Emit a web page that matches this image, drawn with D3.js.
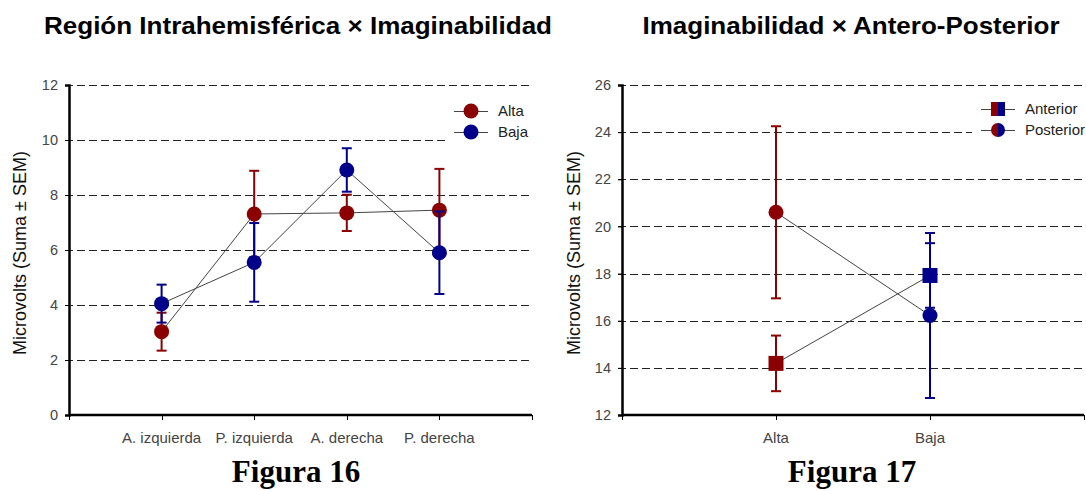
<!DOCTYPE html>
<html>
<head>
<meta charset="utf-8">
<script src="https://d3js.org/d3.v7.min.js"></script>
<style>
  body { margin: 0; background: #fff; }
  svg { display: block; }
</style>
</head>
<body>
<svg id="chart" width="1086" height="491"></svg>
<script>
// Figura 16: Región Intrahemisférica x Imaginabilidad
var regiones = ["A. izquierda", "P. izquierda", "A. derecha", "P. derecha"];
var altaMedia = [3.03, 7.31, 7.35, 7.45];
var altaSem   = [0.69, 1.57, 0.66, 1.50];
var bajaMedia = [4.05, 5.55, 8.91, 5.90];
var bajaSem   = [0.69, 1.43, 0.79, 1.50];
var ticks16 = [0, 2, 4, 6, 8, 10, 12];

// Figura 17: Imaginabilidad x Antero-Posterior
var imaginabilidad = ["Alta", "Baja"];
var anteriorMedia = [14.19, 17.92];
var anteriorSem   = [1.18, 1.37];
var posteriorMedia = [20.60, 16.22];
var posteriorSem   = [3.65, 3.50];
var ticks17 = [12, 14, 16, 18, 20, 22, 24, 26];

var RED = "#8b0000", BLUE = "#00008b";
var SANS = "Liberation Sans, Arial, sans-serif";
var svg = d3.select("#chart");

function drawPanel(opts) {
  var g = svg.append("g");
  var x = d3.scalePoint().domain(opts.cats).range([opts.x0, opts.x1]).padding(1);
  var y = d3.scaleLinear().domain(opts.yDomain).range([415, 85]);
  var crisp = function(v) { return Math.round(v) + 0.5; };

  // dashed grid lines
  g.selectAll(".grid").data(opts.ticks.slice(1)).enter().append("line")
    .attr("x1", opts.x0 - 4).attr("x2", opts.x1)
    .attr("y1", function(d) { return crisp(y(d)); }).attr("y2", function(d) { return crisp(y(d)); })
    .attr("stroke", "#222").attr("stroke-width", 1).attr("stroke-dasharray", "8,4");

  // legend background covers grid
  g.append("rect").attr("x", opts.legX - 26).attr("y", 96)
    .attr("width", opts.x1 - opts.legX + 30).attr("height", 46).attr("fill", "#fff");

  // y axis
  var yAxis = d3.axisLeft(y).tickValues(opts.ticks).tickSize(4).tickPadding(7);
  var ya = g.append("g").attr("transform", "translate(" + opts.x0 + ",0)").call(yAxis);
  ya.select(".domain").attr("stroke", "#000").attr("stroke-width", 2.5);
  ya.selectAll(".tick line").attr("stroke", "#000");
  ya.selectAll("text").attr("font-family", SANS)
    .attr("font-size", 14.5).attr("fill", "#444");

  // x axis with ticks at ends and at each category
  var xa = g.append("g").attr("transform", "translate(0,415)");
  xa.append("line").attr("x1", opts.x0).attr("x2", opts.x1)
    .attr("stroke", "#000").attr("stroke-width", 2.5);
  var tickXs = [opts.x0].concat(opts.cats.map(function(c) { return x(c); })).concat([opts.x1]);
  xa.selectAll(".xt").data(tickXs).enter().append("line")
    .attr("x1", function(d) { return crisp(d); }).attr("x2", function(d) { return crisp(d); })
    .attr("y1", 0).attr("y2", 5).attr("stroke", "#000");
  xa.selectAll(".xl").data(opts.cats).enter().append("text")
    .attr("x", function(d) { return x(d); }).attr("y", 28)
    .attr("text-anchor", "middle")
    .attr("font-family", SANS)
    .attr("font-size", 15).attr("fill", "#444")
    .text(function(d) { return d; });

  // axis title
  g.append("text")
    .attr("transform", "translate(" + opts.titleX + ",253) rotate(-90)")
    .attr("text-anchor", "middle")
    .attr("font-family", SANS)
    .attr("font-size", 18).attr("fill", "#111")
    .text("Microvolts (Suma \u00b1 SEM)");

  // series
  opts.series.forEach(function(s) {
    var pts = opts.cats.map(function(c, i) {
      return { x: x(c), m: s.mean[i], e: s.sem[i], col: s.colors[i] };
    });
    g.append("path").datum(pts)
      .attr("d", d3.line().x(function(d) { return d.x; }).y(function(d) { return y(d.m); }))
      .attr("fill", "none").attr("stroke", "#444").attr("stroke-width", 1);
    var eb = g.selectAll(null).data(pts).enter().append("g")
      .attr("stroke", function(d) { return d.col; }).attr("stroke-width", 2);
    eb.append("line")
      .attr("x1", function(d) { return d.x; }).attr("x2", function(d) { return d.x; })
      .attr("y1", function(d) { return y(d.m + d.e); }).attr("y2", function(d) { return y(d.m - d.e); });
    eb.append("line")
      .attr("x1", function(d) { return d.x - 5; }).attr("x2", function(d) { return d.x + 5; })
      .attr("y1", function(d) { return y(d.m + d.e); }).attr("y2", function(d) { return y(d.m + d.e); });
    eb.append("line")
      .attr("x1", function(d) { return d.x - 5; }).attr("x2", function(d) { return d.x + 5; })
      .attr("y1", function(d) { return y(d.m - d.e); }).attr("y2", function(d) { return y(d.m - d.e); });
    pts.forEach(function(d) {
      drawMarker(g, s.shape, d.x, y(d.m), d.col, d.col);
    });
  });

  // legend
  opts.series.forEach(function(s, i) {
    var ly = opts.legY + i * 21;
    g.append("line").attr("x1", opts.legX - 17).attr("x2", opts.legX + 17)
      .attr("y1", crisp(ly)).attr("y2", crisp(ly)).attr("stroke", "#444");
    drawMarker(g, s.shape, opts.legX, ly, s.legColors[0], s.legColors[1]);
    g.append("text").attr("x", opts.legX + 27).attr("y", ly + 5)
      .attr("font-family", SANS)
      .attr("font-size", 15).attr("fill", "#222").text(s.name);
  });
}

function drawMarker(g, shape, cx, cy, left, right) {
  var id = "clip" + Math.round(cx) + "_" + Math.round(cy) + "_" + shape;
  if (left === right) {
    if (shape === "circle") {
      g.append("circle").attr("cx", cx).attr("cy", cy).attr("r", 7.5).attr("fill", left);
    } else {
      g.append("rect").attr("x", cx - 7.5).attr("y", cy - 7.5).attr("width", 15).attr("height", 15).attr("fill", left);
    }
    return;
  }
  // half red / half blue legend marker
  var cl = g.append("clipPath").attr("id", id + "L");
  cl.append("rect").attr("x", cx - 8).attr("y", cy - 8).attr("width", 8).attr("height", 16);
  var cr = g.append("clipPath").attr("id", id + "R");
  cr.append("rect").attr("x", cx).attr("y", cy - 8).attr("width", 8).attr("height", 16);
  [[left, "L"], [right, "R"]].forEach(function(p) {
    var m;
    if (shape === "circle") {
      m = g.append("circle").attr("cx", cx).attr("cy", cy).attr("r", 7);
    } else {
      m = g.append("rect").attr("x", cx - 7).attr("y", cy - 7).attr("width", 14).attr("height", 14);
    }
    m.attr("fill", p[0]).attr("clip-path", "url(#" + id + p[1] + ")");
  });
}

drawPanel({
  cats: regiones, x0: 69, x1: 532, yDomain: [0, 12], ticks: ticks16, titleX: 26,
  legX: 471, legY: 111,
  series: [
    { name: "Alta", mean: altaMedia, sem: altaSem, shape: "circle",
      colors: regiones.map(function() { return RED; }), legColors: [RED, RED] },
    { name: "Baja", mean: bajaMedia, sem: bajaSem, shape: "circle",
      colors: regiones.map(function() { return BLUE; }), legColors: [BLUE, BLUE] }
  ]
});

drawPanel({
  cats: imaginabilidad, x0: 622, x1: 1084, yDomain: [12, 26], ticks: ticks17, titleX: 580,
  legX: 998, legY: 109,
  series: [
    { name: "Anterior", mean: anteriorMedia, sem: anteriorSem, shape: "square",
      colors: [RED, BLUE], legColors: [RED, BLUE] },
    { name: "Posterior", mean: posteriorMedia, sem: posteriorSem, shape: "circle",
      colors: [RED, BLUE], legColors: [RED, BLUE] }
  ]
});

// titles
svg.append("text").attr("x", 298).attr("y", 34).attr("text-anchor", "middle")
  .attr("font-family", SANS).attr("font-weight", "bold")
  .attr("font-size", 24).attr("fill", "#000")
  .attr("textLength", 508).attr("lengthAdjust", "spacingAndGlyphs")
  .text("Regi\u00f3n Intrahemisf\u00e9rica \u00d7 Imaginabilidad");
svg.append("text").attr("x", 851).attr("y", 34).attr("text-anchor", "middle")
  .attr("font-family", SANS).attr("font-weight", "bold")
  .attr("font-size", 24).attr("fill", "#000")
  .attr("textLength", 417).attr("lengthAdjust", "spacingAndGlyphs")
  .text("Imaginabilidad \u00d7 Antero-Posterior");

svg.append("text").attr("x", 296).attr("y", 482).attr("text-anchor", "middle")
  .attr("font-family", "Liberation Serif, Times New Roman, serif").attr("font-weight", "bold")
  .attr("font-size", 31).attr("fill", "#000").text("Figura 16");
svg.append("text").attr("x", 852).attr("y", 482).attr("text-anchor", "middle")
  .attr("font-family", "Liberation Serif, Times New Roman, serif").attr("font-weight", "bold")
  .attr("font-size", 31).attr("fill", "#000").text("Figura 17");
</script>
</body>
</html>
